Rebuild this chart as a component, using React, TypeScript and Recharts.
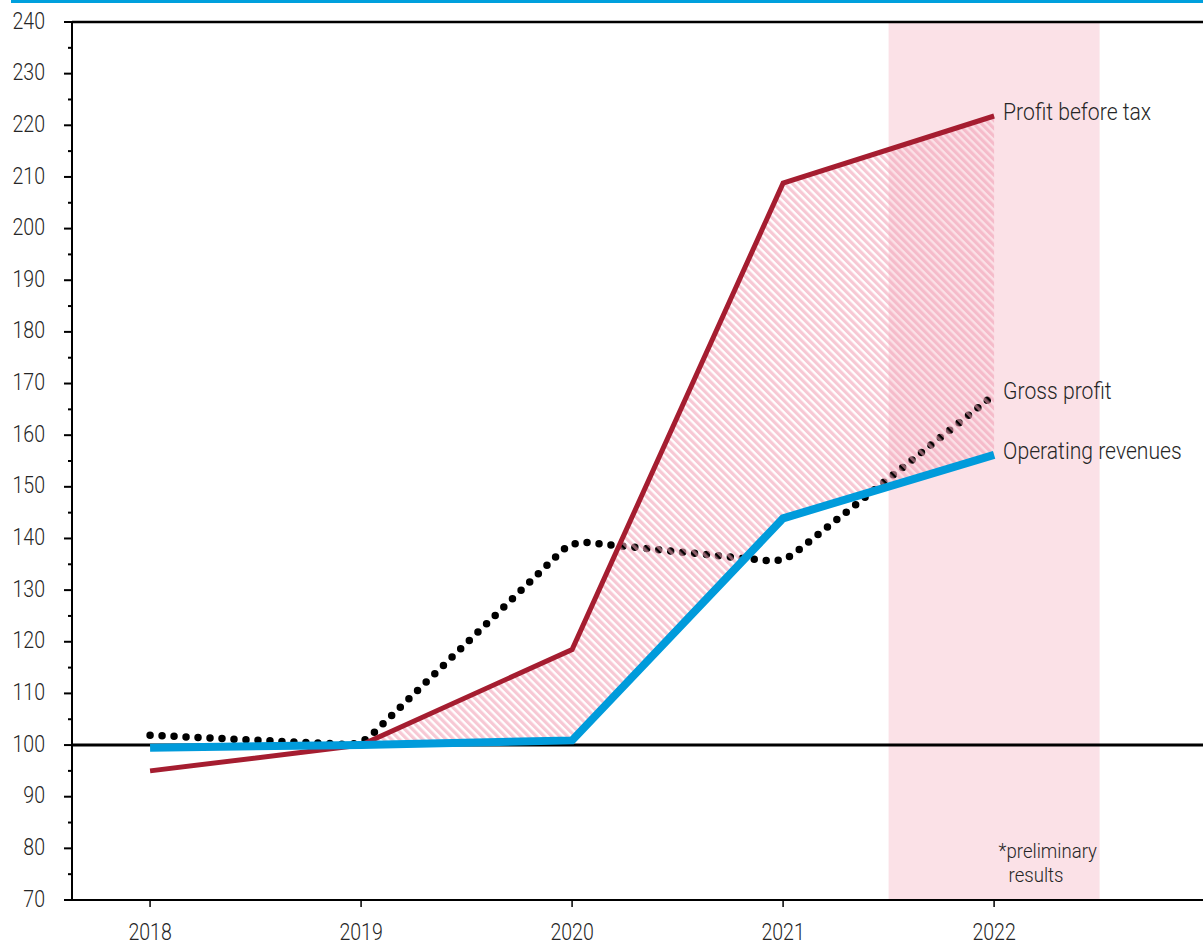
import React from 'react';
import {
  ComposedChart,
  Line,
  Area,
  XAxis,
  YAxis,
  ReferenceArea,
  ReferenceLine,
} from 'recharts';

// Index, 2019 = 100
const years = [2018, 2019, 2020, 2021, 2022];
const operatingRevenues = [99.5, 100, 100.9, 143.9, 156.2];
const profitBeforeTax = [95.0, 100, 118.5, 208.8, 221.8];
const grossProfit = [101.9, 100, 139.5, 135.4, 167.8];

const yMajorTicks = [70, 80, 90, 100, 110, 120, 130, 140, 150, 160, 170, 180, 190, 200, 210, 220, 230, 240];
const yMinorTicks = [75, 85, 95, 105, 115, 125, 135, 145, 155, 165, 175, 185, 195, 205, 215, 225, 235];
const yTicks = [...yMajorTicks, ...yMinorTicks].sort((a, b) => a - b);

const preliminaryFrom = 2021.5;
const preliminaryTo = 2022.5;

const BLUE = '#009BDB';
const RED = '#A51D30';
const TEXT = '#262626';
const FONT = 'Roboto, "Noto Sans", sans-serif';

const rows = years.map((year, i) => ({
  year,
  revenues: operatingRevenues[i],
  pbt: profitBeforeTax[i],
  gross: grossProfit[i],
  // hatched gap only where profit before tax runs above revenues
  gap: i >= 1 ? [operatingRevenues[i], profitBeforeTax[i]] : null,
}));

// Straight segments with softly rounded joints
const roundedCorners = (radius: number) => (context: any) => {
  let pts: number[][] = [];
  return {
    areaStart() {},
    areaEnd() {},
    lineStart() {
      pts = [];
    },
    lineEnd() {
      const n = pts.length;
      if (!n) return;
      context.moveTo(pts[0][0], pts[0][1]);
      for (let i = 1; i < n - 1; i++) {
        const [px, py] = pts[i];
        const [ax, ay] = pts[i - 1];
        const [bx, by] = pts[i + 1];
        const dA = Math.hypot(ax - px, ay - py) || 1;
        const dB = Math.hypot(bx - px, by - py) || 1;
        const r = Math.min(radius, dA / 2, dB / 2);
        context.lineTo(px + ((ax - px) * r) / dA, py + ((ay - py) * r) / dA);
        context.quadraticCurveTo(px, py, px + ((bx - px) * r) / dB, py + ((by - py) * r) / dB);
      }
      if (n > 1) context.lineTo(pts[n - 1][0], pts[n - 1][1]);
    },
    point(x: number, y: number) {
      pts.push([+x, +y]);
    },
  };
};

const YTick = (props: any) => {
  const { x, y, payload } = props;
  const v = payload.value;
  const major = v % 10 === 0;
  return (
    <g>
      <line x1={x - (major ? 8 : 4)} x2={x} y1={y} y2={y} stroke="#000" strokeWidth={2} />
      {major && (
        <text
          transform={`translate(${x - 27},${y - 1.5}) scale(0.85,1)`}
          textAnchor="end"
          dominantBaseline="central"
          fontFamily={FONT}
          fontWeight={300}
          fontSize={23}
          fill={TEXT}
        >
          {v}
        </text>
      )}
    </g>
  );
};

const XTick = (props: any) => {
  const { x, y, payload } = props;
  return (
    <text
      transform={`translate(${x},${y + 12.5}) scale(0.85,1)`}
      textAnchor="middle"
      fontFamily={FONT}
      fontWeight={300}
      fontSize={23}
      fill={TEXT}
    >
      {payload.value}
    </text>
  );
};

const endLabel = (text: string) => (props: any) => {
  const { x, y, index } = props;
  if (index !== years.length - 1) return <g />;
  return (
    <text
      transform={`translate(${x + 9},${y + 4.5}) scale(0.92,1)`}
      textAnchor="start"
      fontFamily={FONT}
      fontWeight={300}
      fontSize={23}
      fill={TEXT}
    >
      {text}
    </text>
  );
};

const BandNote = (props: any) => {
  const vb = props.viewBox || {};
  const { x = 0, y = 0, height = 0 } = vb;
  const bottom = y + height;
  const style = { fontFamily: FONT, fontWeight: 300, fontSize: 20, fill: TEXT } as const;
  return (
    <g>
      <text transform={`translate(${x + 110},${bottom - 42}) scale(0.93,1)`} {...style}>
        *preliminary
      </text>
      <text transform={`translate(${x + 120},${bottom - 18}) scale(0.93,1)`} {...style}>
        results
      </text>
    </g>
  );
};

export default function App() {
  return (
    <div
      style={{
        position: 'absolute',
        left: 0,
        top: 0,
        width: 1203,
        height: 945,
        overflow: 'hidden',
        background: '#fff',
      }}
    >
      <div style={{ position: 'absolute', left: 11, top: 0, width: 1192, height: 3, background: '#00A0DD' }} />
      <ComposedChart width={1203} height={945} data={rows} margin={{ top: 22, right: 0, bottom: 0, left: 0 }}>
        <defs>
          <pattern id="gapHatch" patternUnits="userSpaceOnUse" width={5.5} height={5.5} patternTransform="rotate(-45)">
            <rect x={0} y={0} width={3.2} height={5.5} fill="#F2A0B5" fillOpacity={0.58} />
          </pattern>
        </defs>
        <XAxis
          dataKey="year"
          type="number"
          domain={[2017.63, 2022.99]}
          ticks={years}
          allowDataOverflow
          height={45}
          axisLine={{ stroke: '#000', strokeWidth: 2 }}
          tickLine={{ stroke: '#000', strokeWidth: 1.5 }}
          tickSize={7}
          tickMargin={20}
          tick={<XTick />}
        />
        <YAxis
          type="number"
          domain={[70, 240]}
          ticks={yTicks}
          interval={0}
          allowDataOverflow
          width={72}
          axisLine={{ stroke: '#000', strokeWidth: 2 }}
          tickLine={false}
          tickSize={0}
          tickMargin={0}
          tick={<YTick />}
        />
        <ReferenceArea
          x1={preliminaryFrom}
          x2={preliminaryTo}
          fill="#FBE1E7"
          fillOpacity={1}
          stroke="none"
          label={<BandNote />}
          zIndex={-60}
        />
        <ReferenceLine y={100} stroke="#000" strokeWidth={3} zIndex={50} />
        <Line
          dataKey="gross"
          type={roundedCorners(16) as any}
          stroke="#000"
          strokeWidth={7.5}
          strokeDasharray="0 12"
          strokeLinecap="round"
          dot={false}
          activeDot={false}
          isAnimationActive={false}
          label={endLabel('Gross profit')}
          zIndex={90}
        />
        <Area
          dataKey="gap"
          type="linear"
          stroke="none"
          fill="url(#gapHatch)"
          fillOpacity={1}
          dot={false}
          activeDot={false}
          isAnimationActive={false}
          zIndex={100}
        />
        <Line
          dataKey="pbt"
          type="linear"
          stroke={RED}
          strokeWidth={5}
          strokeLinecap="butt"
          dot={false}
          activeDot={false}
          isAnimationActive={false}
          label={endLabel('Profit before tax')}
          zIndex={400}
        />
        <Line
          dataKey="revenues"
          type="linear"
          stroke={BLUE}
          strokeWidth={8}
          strokeLinecap="butt"
          dot={false}
          activeDot={false}
          isAnimationActive={false}
          label={endLabel('Operating revenues')}
          zIndex={410}
        />
        <ReferenceLine y={240} stroke="#000" strokeWidth={2.5} zIndex={500} />
      </ComposedChart>
    </div>
  );
}
